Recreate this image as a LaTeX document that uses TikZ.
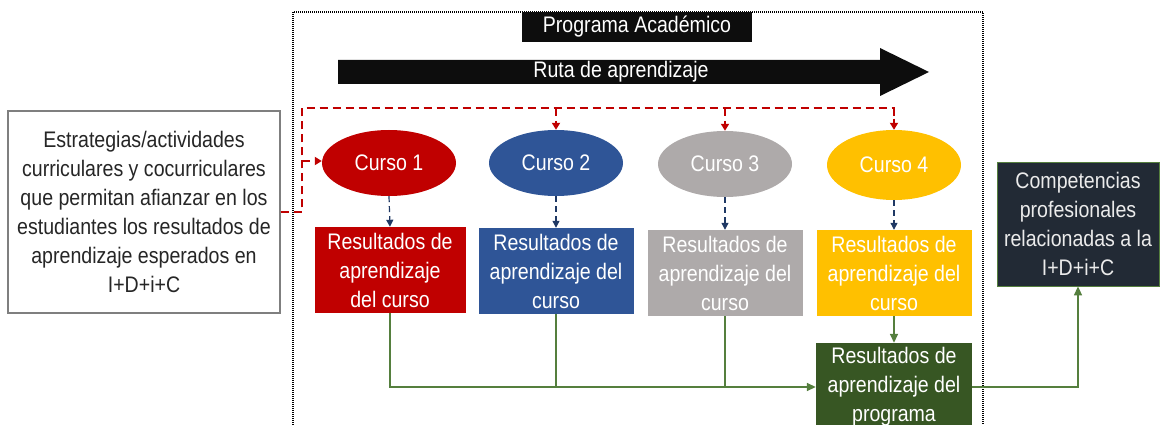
\documentclass[tikz,border=0pt]{standalone}
\usepackage{fontspec}
\setmainfont{Liberation Sans}[FakeStretch=0.87]
\usetikzlibrary{arrows.meta,shapes.geometric}
\definecolor{cred}{HTML}{C00000}
\definecolor{cblue}{HTML}{2F5597}
\definecolor{cgray}{HTML}{AEAAAA}
\definecolor{cyellow}{HTML}{FFC000}
\definecolor{cgreen}{HTML}{375623}
\definecolor{cnavy}{HTML}{222A35}
\definecolor{lgreen}{HTML}{557F3E}
\definecolor{dashnavy}{HTML}{1F3864}
\definecolor{bordergray}{HTML}{7F7F7F}
\tikzset{
  txt/.style={font=\fontsize{22.5}{29}\selectfont, align=center, inner sep=0pt},
  curso/.style={ellipse, txt, fill=#1, draw=none, minimum width=134, minimum height=66, text=white},
  resbox/.style={rectangle, txt, fill=#1, draw=none, minimum width=155, minimum height=86, text=white},
  reddash/.style={draw=cred, line width=2pt, dash pattern=on 8pt off 5pt},
  navydash/.style={draw=dashnavy, line width=1.2pt, dash pattern=on 6pt off 4pt, -{Triangle[length=7pt,width=7pt]}},
  greenline/.style={draw=lgreen, line width=1.6pt},
  redtip/.style={-{Triangle[length=7pt,width=8pt]}},
  greentip/.style={-{Triangle[length=9pt,width=8pt]}},
}
\begin{document}
\begin{tikzpicture}[x=1pt,y=-1pt]
\useasboundingbox (0,0) rectangle (1160,425);
\clip (0,0) rectangle (1160,425);
% outer dotted frame
\draw[black, line width=1.2pt, dash pattern=on 1pt off 1pt] (293,12) rectangle (983,440);
% title
\node[txt, fill=black!95, text=white, minimum width=230, minimum height=30] (title) at (637,27) {Programa Académico};
% route arrow
\fill[black!95] (338,60) -- (880,60) -- (880,48) -- (929,72) -- (880,96) -- (880,84) -- (338,84) -- cycle;
\node[txt, text=white] (ruta) at (621,72) {Ruta de aprendizaje};
% left box
\node[txt, draw=bordergray, line width=1.2pt, fill=white, text=black!85, minimum width=272, minimum height=202] (left) at (144,212)
  {Estrategias/actividades\\curriculares y cocurriculares\\que permitan afianzar en los\\estudiantes los resultados de\\aprendizaje esperados en\\I+D+i+C};
% courses
\node[curso=cred] (c1) at (389,163) {Curso 1};
\node[curso=cblue] (c2) at (556,163) {Curso 2};
\node[curso=cgray] (c3) at (725,164) {Curso 3};
\node[curso=cyellow, minimum height=70] (c4) at (894,165) {Curso 4};
% course results
\node[resbox=cred, minimum width=151] (r1) at (390,270) {Resultados de\\aprendizaje\\del curso};
\node[resbox=cblue] (r2) at (556,271) {Resultados de\\aprendizaje del\\curso};
\node[resbox=cgray] (r3) at (725,273) {Resultados de\\aprendizaje del\\curso};
\node[resbox=cyellow] (r4) at (894,273) {Resultados de\\aprendizaje del\\curso};
% program results
\node[resbox=cgreen, minimum width=156, minimum height=88] (rp) at (894,387) {Resultados de\\aprendizaje del\\programa};
% competencias
\node[txt, fill=cnavy, draw=lgreen, line width=0.8pt, text=white!92!black, minimum width=162, minimum height=124] (comp) at (1078,224)
  {Competencias\\profesionales\\relacionadas a la\\I+D+i+C};
% red dashed connectors
\coordinate (rl) at (302,108);
\coordinate (rb) at (302,161);
\draw[reddash] (left.east) -| (rl) -| (c4.north);
\draw[reddash, redtip] (rb) -- (rb -| c1.west);
\draw[reddash, redtip] (rl -| c2.north) -- (c2.north);
\draw[reddash, redtip] (rl -| c3.north) -- (c3.north);
\draw[reddash, redtip] (rl -| c4.north) -- (c4.north);
% navy dashed arrows
\draw[navydash] (c1.south) -- (r1.north);
\draw[navydash] (c2.south) -- (r2.north);
\draw[navydash] (c3.south) -- (r3.north);
\draw[navydash] (c4.south) -- (r4.north);
% green connectors
\draw[greenline, greentip] (r1.south) |- (rp.west);
\draw[greenline] (r2.south) -- (r2.south |- rp.west);
\draw[greenline] (r3.south) -- (r3.south |- rp.west);
\draw[greenline, greentip] (r4.south) -- (rp.north);
\draw[greenline, greentip] (rp.east) -| (comp.south);
\end{tikzpicture}
\end{document}
